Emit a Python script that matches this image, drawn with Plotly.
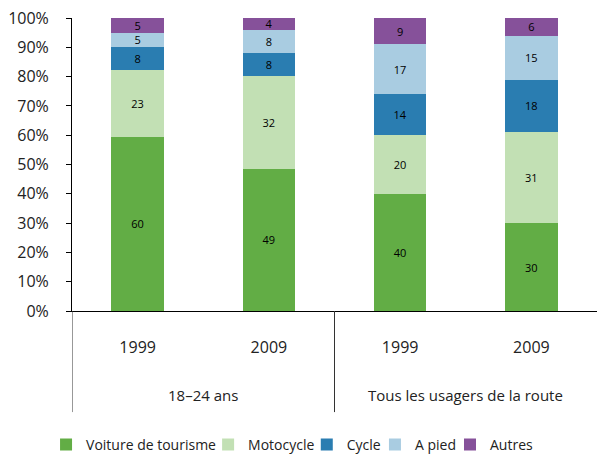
import plotly.graph_objects as go

groups = ["18–24 ans", "18–24 ans", "Tous les usagers de la route", "Tous les usagers de la route"]
years = ["1999", "2009", "1999", "2009"]

series_names = ["Voiture de tourisme", "Motocycle", "Cycle", "A pied", "Autres"]
voiture = [60, 49, 40, 30]
motocycle = [23, 32, 20, 31]
cycle = [8, 8, 14, 18]
a_pied = [5, 8, 17, 15]
autres = [5, 4, 9, 6]

colors = ["#62ad45", "#c2e0b4", "#2a7db1", "#a9cce1", "#86519a"]
FONT = "Open Sans, sans-serif"

# left edge of each legend entry, as a fraction of the figure width
legend_x = [0.077, 0.348, 0.513, 0.627, 0.7525]

positions = list(range(len(years)))

fig = go.Figure()
for i, (name, vals, col) in enumerate(zip(series_names, [voiture, motocycle, cycle, a_pied, autres], colors)):
    lg = "legend" if i == 0 else f"legend{i + 1}"
    fig.add_trace(go.Bar(
        x=positions, y=vals, name=name, width=0.4, legend=lg,
        marker=dict(color=col, line=dict(width=0)),
        text=vals, texttemplate="%{text}", textposition="inside",
        insidetextanchor="middle", textangle=0,
        textfont=dict(size=11, color="black", family=FONT),
        hoverinfo="skip",
    ))
    fig.update_layout({lg: dict(orientation="h", x=legend_x[i], xanchor="left", xref="container",
                                y=-0.457, yanchor="middle", font=dict(size=14),
                                itemwidth=30, bgcolor="rgba(0,0,0,0)")})

# group labels and dividers below the category axis
group_order = []
for g in groups:
    if g not in group_order:
        group_order.append(g)
for g in group_order:
    idx = [i for i, gg in enumerate(groups) if gg == g]
    mid = (idx[0] + idx[-1]) / 2
    fig.add_annotation(x=mid, xref="x", y=-0.287, yref="paper", text=g,
                       showarrow=False, yanchor="middle",
                       font=dict(size=15, family=FONT, color="#222"))
    fig.add_shape(type="line", xref="x", yref="paper",
                  x0=idx[0] - 0.5, x1=idx[0] - 0.5, y0=0, y1=-0.345,
                  line=dict(color="#333", width=1))

fig.update_layout(
    barmode="stack", barnorm="percent",
    width=598, height=457,
    margin=dict(l=72, r=1, t=18, b=146, autoexpand=False),
    plot_bgcolor="white", paper_bgcolor="white",
    font=dict(family=FONT, size=15, color="#222"),
    uniformtext=dict(minsize=11, mode="show"),
    showlegend=True,
)
fig.update_yaxes(range=[0, 100], dtick=10, ticksuffix="%", showgrid=False,
                 showline=True, linecolor="black", linewidth=1,
                 ticks="outside", ticklen=5, tickcolor="black",
                 ticklabelstandoff=14, automargin=False,
                 tickfont=dict(size=16), zeroline=False)
fig.update_xaxes(range=[-0.5, len(years) - 0.5], tickvals=positions, ticktext=years,
                 showline=True, linecolor="black", linewidth=1,
                 ticks="", ticklabelstandoff=22, automargin=False,
                 tickfont=dict(size=16), showgrid=False, zeroline=False)

fig.write_html("out.html")
